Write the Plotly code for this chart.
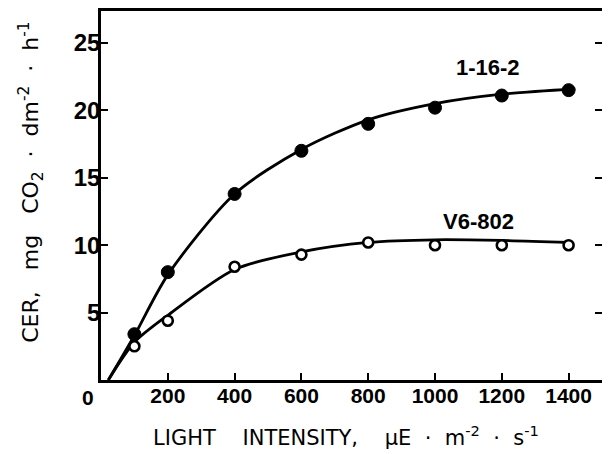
import plotly.graph_objects as go

# Measured points
light_points = [100, 200, 400, 600, 800, 1000, 1200, 1400]
cer_1_16_2 = [3.4, 8.0, 13.8, 17.0, 19.0, 20.2, 21.1, 21.5]
cer_v6_802 = [2.5, 4.4, 8.4, 9.3, 10.2, 10.0, 10.0, 10.0]

# Fitted curves
curve_x_1 = [22, 100, 200, 400, 600, 800, 1000, 1200, 1420]
curve_y_1 = [0.0, 3.3, 7.8, 13.8, 17.1, 19.3, 20.5, 21.2, 21.6]
curve_x_2 = [22, 100, 200, 400, 600, 800, 1000, 1200, 1400]
curve_y_2 = [0.0, 2.8, 4.8, 8.2, 9.5, 10.2, 10.4, 10.35, 10.2]

x_ticks = [200, 400, 600, 800, 1000, 1200, 1400]
y_ticks = [5, 10, 15, 20, 25]

FONT = "Liberation Sans"
TFONT = "DejaVu Sans"

# page body has an 8px margin, so the figure is sized/positioned to compensate
W, H = 602, 446
ML, MR, MT, MB = 93, 8, 3, 73.5
PW, PH = W - ML - MR, H - MT - MB


def px_to_paper(sx, sy):
    fx, fy = sx - 8, sy - 8
    return (fx - ML) / PW, (H - MB - fy) / PH


fig = go.Figure()
fig.add_trace(go.Scatter(x=curve_x_1, y=curve_y_1, mode="lines",
                         line=dict(color="black", width=2.8, shape="spline", smoothing=0.8),
                         showlegend=False, hoverinfo="skip"))
fig.add_trace(go.Scatter(x=curve_x_2, y=curve_y_2, mode="lines",
                         line=dict(color="black", width=2.8, shape="spline", smoothing=0.8),
                         showlegend=False, hoverinfo="skip"))
fig.add_trace(go.Scatter(x=light_points, y=cer_1_16_2, mode="markers", name="1-16-2",
                         marker=dict(symbol="circle", size=13, color="black",
                                     line=dict(color="black", width=1)),
                         showlegend=False))
fig.add_trace(go.Scatter(x=light_points, y=cer_v6_802, mode="markers", name="V6-802",
                         marker=dict(symbol="circle", size=10, color="white",
                                     line=dict(color="black", width=2.6)),
                         showlegend=False))

fig.update_layout(
    width=W, height=H,
    margin=dict(l=ML, r=MR, t=MT, b=MB, autoexpand=False),
    paper_bgcolor="white", plot_bgcolor="white",
    font=dict(family=FONT, color="black"),
    xaxis=dict(range=[0, 1500], tickvals=x_ticks, ticktext=[str(v) for v in x_ticks],
               ticks="inside", ticklen=7, tickwidth=2.2, tickcolor="black",
               showline=True, linecolor="black", linewidth=2.6, mirror=True,
               showgrid=False, zeroline=False, automargin=False,
               tickfont=dict(family=FONT, size=21, weight="bold"),
               ticklabelstandoff=-5),
    yaxis=dict(range=[0, 27.37], tickvals=y_ticks, ticktext=[str(v) for v in y_ticks],
               ticks="inside", ticklen=7, tickwidth=2.2, tickcolor="black",
               showline=True, linecolor="black", linewidth=2.6, mirror="ticks",
               showgrid=False, zeroline=False, automargin=False,
               tickfont=dict(family=FONT, size=24, weight="bold"),
               ticklabelstandoff=-7),
)


def add_text(sx, sy, text, size, weight="normal", family=FONT, angle=0):
    px, py = px_to_paper(sx, sy)
    fig.add_annotation(x=px, y=py, xref="paper", yref="paper", text=text,
                       showarrow=False, xanchor="center", yanchor="middle",
                       textangle=angle,
                       font=dict(family=family, size=size, weight=weight))


add_text(88, 398, "0", 21, "bold")
add_text(488, 68, "1-16-2", 22, "bold")
add_text(478, 222, "V6-802", 22, "bold")
add_text(346, 437,
         "LIGHT&nbsp;&nbsp;&nbsp; INTENSITY,&nbsp;&nbsp;&nbsp; µE&nbsp; ·&nbsp; m<sup>-2</sup>&nbsp; ·&nbsp; s<sup>-1</sup>",
         21, family=TFONT)
add_text(31, 183,
         "CER,&nbsp;&nbsp; mg&nbsp;&nbsp; CO<sub>2</sub>&nbsp; ·&nbsp; dm<sup>-2</sup>&nbsp; ·&nbsp; h<sup>-1</sup>",
         22, family=TFONT, angle=-90)

fig.write_html("out.html")
